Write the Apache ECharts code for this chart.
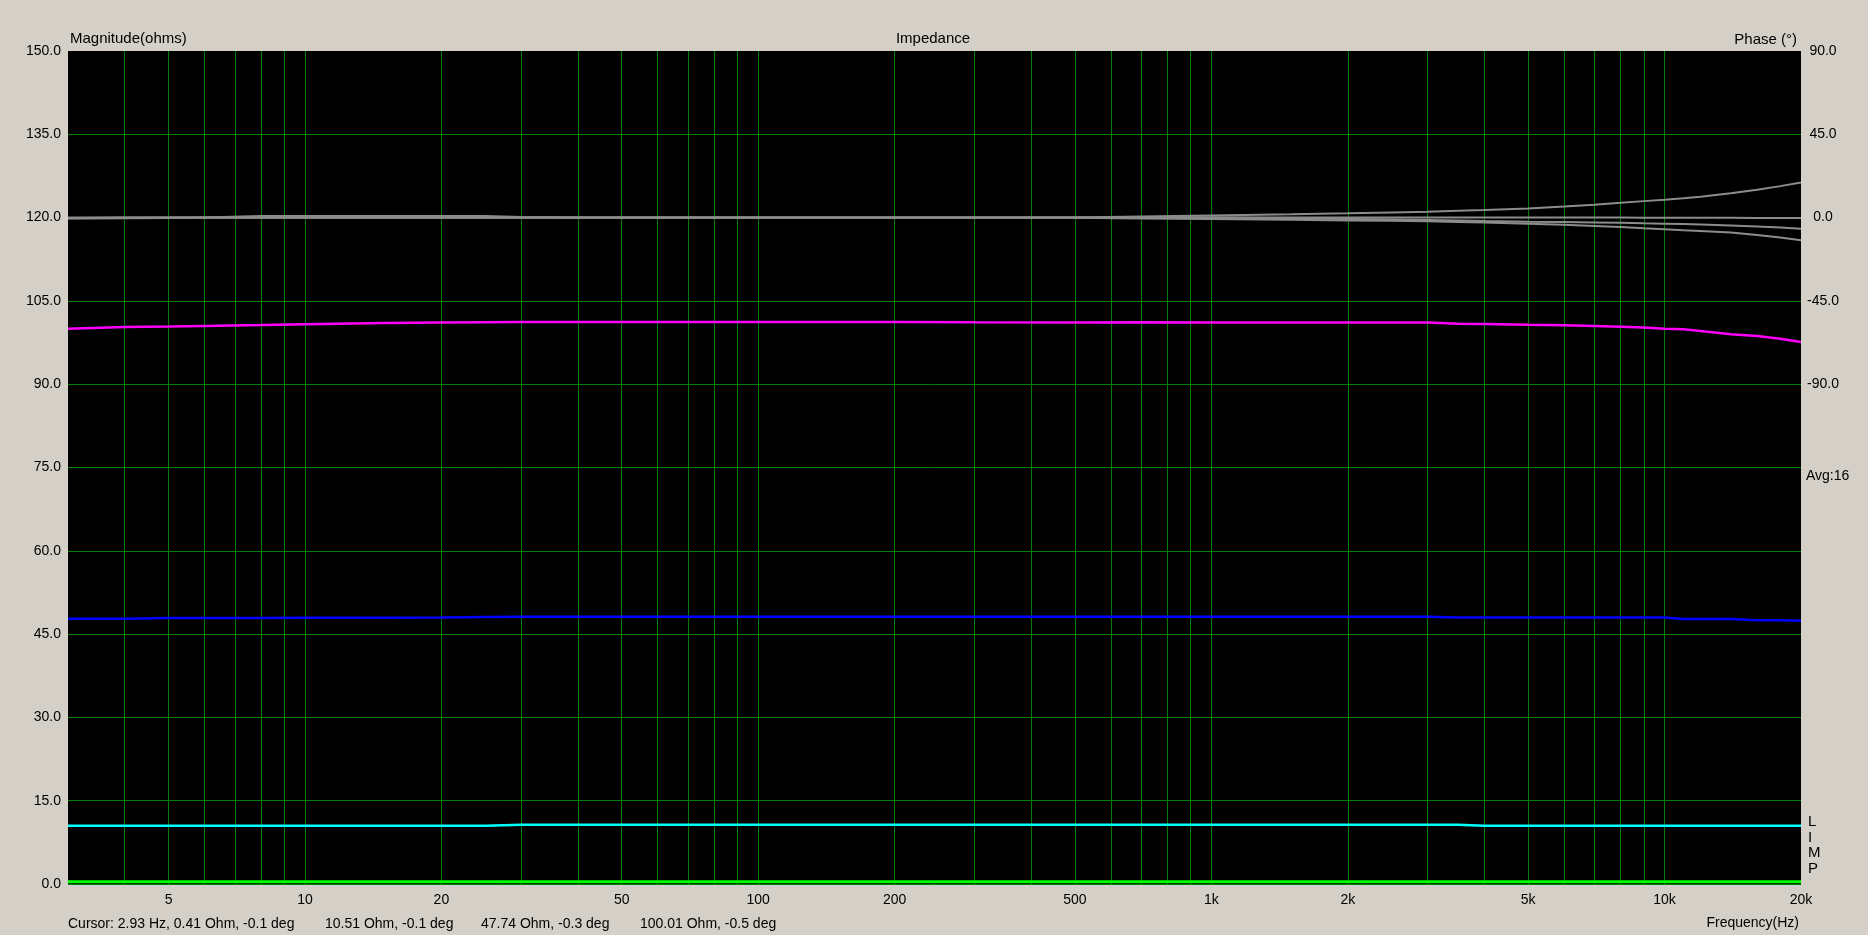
<!DOCTYPE html>
<html>
<head>
<meta charset="utf-8">
<script src="https://cdn.jsdelivr.net/npm/echarts@6/dist/echarts.min.js"></script>
<style>
html,body{margin:0;padding:0;background:#D4D0C8;}
#c{width:1868px;height:935px;}
</style>
</head>
<body>
<div id="c"></div>
<script>
// ---- data ----
var freqs = [3, 4, 5, 6, 8, 10, 15, 20, 25, 30, 40, 50, 70, 100, 150, 200, 300, 500, 700, 1000, 1500, 2000, 2500, 3000, 3500, 4000, 5000, 6000, 7000, 8000, 9000, 10000, 11000, 12000, 14000, 16000, 18000, 20000];

var magMagenta = [100.0, 100.3, 100.4, 100.5, 100.65, 100.8, 101.0, 101.1, 101.15, 101.2, 101.2, 101.2, 101.2, 101.2, 101.2, 101.2, 101.15, 101.1, 101.15, 101.1, 101.1, 101.1, 101.1, 101.1, 100.9, 100.85, 100.7, 100.6, 100.5, 100.35, 100.2, 100.0, 99.9, 99.6, 99.0, 98.7, 98.2, 97.6];
var magBlue = [47.75, 47.75, 47.9, 47.9, 47.9, 47.95, 47.95, 48.0, 48.1, 48.13, 48.13, 48.13, 48.13, 48.13, 48.13, 48.13, 48.13, 48.13, 48.13, 48.13, 48.13, 48.13, 48.13, 48.13, 48.0, 48.0, 48.0, 48.0, 48.0, 48.0, 48.0, 48.0, 47.7, 47.7, 47.7, 47.5, 47.5, 47.4];
var magCyan = [10.5, 10.5, 10.5, 10.5, 10.5, 10.5, 10.5, 10.5, 10.5, 10.68, 10.68, 10.68, 10.68, 10.68, 10.68, 10.68, 10.68, 10.68, 10.68, 10.68, 10.68, 10.68, 10.68, 10.68, 10.68, 10.5, 10.5, 10.5, 10.5, 10.5, 10.5, 10.5, 10.5, 10.5, 10.5, 10.5, 10.5, 10.5];
var magGreen = [0.41, 0.4, 0.4, 0.4, 0.4, 0.4, 0.4, 0.4, 0.4, 0.4, 0.4, 0.4, 0.4, 0.4, 0.4, 0.4, 0.4, 0.4, 0.4, 0.4, 0.4, 0.4, 0.4, 0.4, 0.4, 0.4, 0.4, 0.4, 0.4, 0.4, 0.4, 0.4, 0.4, 0.4, 0.4, 0.4, 0.4, 0.4];

var phase1 = [-0.1, 0, 0, 0, 0, 0, 0, 0, 0, 0, 0, 0, 0, 0, 0, 0, 0, 0, 0.6, 1.2, 1.8, 2.3, 2.8, 3.2, 3.7, 4.1, 4.9, 6.0, 7.0, 8.0, 8.9, 9.7, 10.5, 11.3, 13.2, 15.0, 17.0, 19.0];
var phase2 = [-0.1, 0, 0, 0, 0.8, 0.8, 0.8, 0.8, 0.8, 0.3, 0, 0, 0, 0, 0, 0, 0, 0, 0, 0, 0, 0, 0, 0, 0, 0, 0, 0, 0, 0, -0.1, -0.1, -0.1, -0.1, -0.1, -0.2, -0.2, -0.2];
var phase3 = [-0.3, -0.2, -0.1, 0, 0, 0, 0, 0, 0, 0, 0, 0, 0, 0, 0, 0, 0, 0, 0, 0, -0.3, -0.7, -1.0, -1.3, -1.6, -1.9, -2.2, -2.4, -2.6, -2.8, -3.1, -3.3, -3.5, -3.7, -4.3, -4.8, -5.4, -6.0];
var phase4 = [-0.5, -0.3, -0.2, -0.1, -0.1, -0.1, -0.1, -0.1, -0.1, -0.1, -0.1, -0.1, -0.1, -0.1, -0.1, -0.1, -0.1, -0.1, -0.5, -0.8, -1.2, -1.5, -1.7, -2.0, -2.4, -2.7, -3.3, -3.9, -4.5, -5.1, -5.8, -6.3, -6.8, -7.2, -8.1, -9.4, -10.8, -12.2];

var freqTickLabels = [5, 10, 20, 50, 100, 200, 500, 1000, 2000, 5000, 10000, 20000];
var freqGridLines = [4, 5, 6, 7, 8, 9, 10, 20, 30, 40, 50, 60, 70, 80, 90, 100, 200, 300, 400, 500, 600, 700, 800, 900, 1000, 2000, 3000, 4000, 5000, 6000, 7000, 8000, 9000, 10000];

var cursorTexts = ['Cursor: 2.93 Hz, 0.41 Ohm, -0.1 deg', '10.51 Ohm, -0.1 deg', '47.74 Ohm, -0.3 deg', '100.01 Ohm, -0.5 deg'];

function pairs(vals) { return freqs.map(function (f, i) { return [f, vals[i]]; }); }

var FONT = '"Liberation Sans", Arial, sans-serif';
var gridGreen = '#008000';

function lineSeries(name, vals, color, yIdx, width) {
  return {
    name: name, type: 'line', data: pairs(vals), yAxisIndex: yIdx,
    showSymbol: false, symbol: 'none', smooth: false,
    lineStyle: { color: color, width: width || 2 },
    itemStyle: { color: color }, silent: true, z: 3
  };
}

var chart = echarts.init(document.getElementById('c'), null, { renderer: 'canvas' });
chart.setOption({
  animation: false,
  backgroundColor: '#D4D0C8',
  grid: { left: 68, right: 67, top: 51, bottom: 51, show: true, backgroundColor: '#000000', borderWidth: 0 },
  xAxis: {
    type: 'log', logBase: 10, min: 3, max: 20000,
    axisLine: { show: false },
    axisTick: { show: false, customValues: freqGridLines },
    splitLine: { show: true, lineStyle: { color: gridGreen, width: 1 } },
    minorSplitLine: { show: false },
    axisLabel: {
      customValues: freqTickLabels,
      color: '#000', fontSize: 14, fontFamily: FONT, margin: 9,
      formatter: function (v) { return v >= 1000 ? (v / 1000) + 'k' : String(v); }
    }
  },
  yAxis: [
    {
      type: 'value', min: 0, max: 150, interval: 15, position: 'left',
      axisLine: { show: false }, axisTick: { show: false },
      splitLine: { show: true, lineStyle: { color: [gridGreen, gridGreen, gridGreen, gridGreen, gridGreen, gridGreen, gridGreen, gridGreen, gridGreen, gridGreen, 'rgba(0,0,0,0)'], width: 1 } },
      axisLabel: { color: '#000', fontSize: 14, fontFamily: FONT, margin: 7,
        formatter: function (v) { return v.toFixed(1); } }
    },
    {
      type: 'value', min: -360, max: 90, interval: 45, position: 'right',
      axisLine: { show: false }, axisTick: { show: false },
      splitLine: { show: false },
      axisLabel: { color: '#000', fontSize: 14, fontFamily: FONT, margin: 22, align: 'center',
        formatter: function (v) { return v >= -90 ? v.toFixed(1) : ''; } }
    }
  ],
  series: [
    lineSeries('Phase A', phase1, '#8C8C8C', 1, 2),
    lineSeries('Phase B', phase2, '#8C8C8C', 1, 2),
    lineSeries('Phase C', phase3, '#8C8C8C', 1, 2),
    lineSeries('Phase D', phase4, '#8C8C8C', 1, 2),
    lineSeries('100 ohm', magMagenta, '#FF00FF', 0, 2.5),
    lineSeries('47 ohm', magBlue, '#0000FF', 0, 2.5),
    lineSeries('10 ohm', magCyan, '#00FFFF', 0, 2.5),
    lineSeries('0.4 ohm', magGreen, '#00FF00', 0, 3)
  ],
  graphic: [
    { type: 'text', left: 70, top: 31, style: { text: 'Magnitude(ohms)', font: '15px ' + FONT, fill: '#000' } },
    { type: 'text', x: 933, y: 39, style: { text: 'Impedance', font: '15px ' + FONT, fill: '#000', align: 'center', verticalAlign: 'middle' } },
    { type: 'text', x: 1797, y: 40, style: { text: 'Phase (°)', font: '15px ' + FONT, fill: '#000', align: 'right', verticalAlign: 'middle' } },
    { type: 'text', x: 1806, y: 476, style: { text: 'Avg:16', font: '14px ' + FONT, fill: '#000', align: 'left', verticalAlign: 'middle' } },
    { type: 'text', x: 1808, y: 814, style: { text: 'L\nI\nM\nP', font: '15px ' + FONT, fill: '#000', align: 'left', verticalAlign: 'top', lineHeight: 15.7 } },
    { type: 'text', x: 1799, y: 923, style: { text: 'Frequency(Hz)', font: '14px ' + FONT, fill: '#000', align: 'right', verticalAlign: 'middle' } },
    { type: 'text', x: 68, y: 924, style: { text: cursorTexts[0], font: '14px ' + FONT, fill: '#000', verticalAlign: 'middle' } },
    { type: 'text', x: 325, y: 924, style: { text: cursorTexts[1], font: '14px ' + FONT, fill: '#000', verticalAlign: 'middle' } },
    { type: 'text', x: 481, y: 924, style: { text: cursorTexts[2], font: '14px ' + FONT, fill: '#000', verticalAlign: 'middle' } },
    { type: 'text', x: 640, y: 924, style: { text: cursorTexts[3], font: '14px ' + FONT, fill: '#000', verticalAlign: 'middle' } }
  ]
});
</script>
</body>
</html>
